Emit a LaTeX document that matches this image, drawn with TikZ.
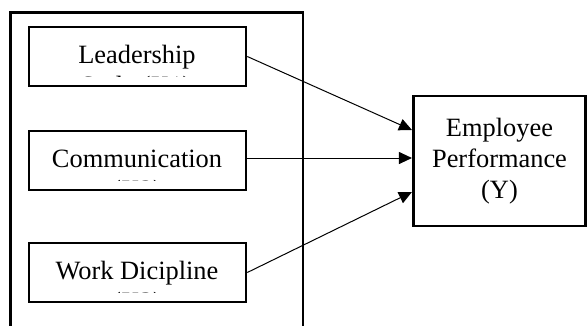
\documentclass[tikz,border=0pt]{standalone}
\usepackage{fontspec}
\setmainfont{Liberation Serif}
\usetikzlibrary{arrows.meta,calc}
\begin{document}
\begin{tikzpicture}[x=1pt,y=-1pt,
  varbox/.style={draw,line width=2.6pt,minimum width=217pt,minimum height=59pt,inner sep=0pt},
  outbox/.style={draw,line width=2.6pt,minimum width=172.5pt,minimum height=130pt,inner sep=0pt,
     align=center,font=\fontsize{26.4}{31}\selectfont},
  lbl/.style={anchor=base,inner sep=0pt,font=\fontsize{26.4}{31}\selectfont},
  link/.style={line width=1pt,-{Triangle[length=13pt,width=12pt]}},
  frame/.style={line width=2.2pt}]
\useasboundingbox (0,0) rectangle (587,325);
% outer frame (open at the bottom)
\coordinate (fbl) at (10.5,326);
\coordinate (ftl) at (10.5,12.5);
\coordinate (ftr) at (303,12.5);
\coordinate (fbr) at (303,326);
\draw[frame] (fbl) -- (ftl) -- (ftr) -- (fbr);
% variable boxes
\node[varbox] (lead) at (137.5,56.5) {};
\node[varbox] (comm) at (137.5,160.5) {};
\node[varbox] (work) at (137.5,272.5) {};
\node[lbl] (leadt) at (137,63) {Leadership};
\node[lbl] (commt) at (137,167) {Communication};
\node[lbl] (workt) at (137,279) {Work Dicipline};
% second lines, clipped by the boxes
\begin{scope}
\clip (30,28) rectangle (245,76.5);
\node[lbl] (leads) at (136,94) {Style (X1)};
\end{scope}
\begin{scope}
\clip (30,132) rectangle (245,180.5);
\node[lbl] (comms) at (137,198) {(X2)};
\end{scope}
\begin{scope}
\clip (30,244) rectangle (245,292.5);
\node[lbl] (works) at (137,310) {(X3)};
\end{scope}
% dependent variable
\node[outbox] (emp) at (499.5,161) {Employee\\Performance\\(Y)};
% connectors
\draw[link] (lead.east) -- ([yshift=31pt]emp.west);
\draw[link] ([yshift=2.5pt]comm.east) -- ([yshift=2.5pt]comm.east -| emp.west);
\draw[link] (work.east) -- ([yshift=-31pt]emp.west);
\end{tikzpicture}
\end{document}
